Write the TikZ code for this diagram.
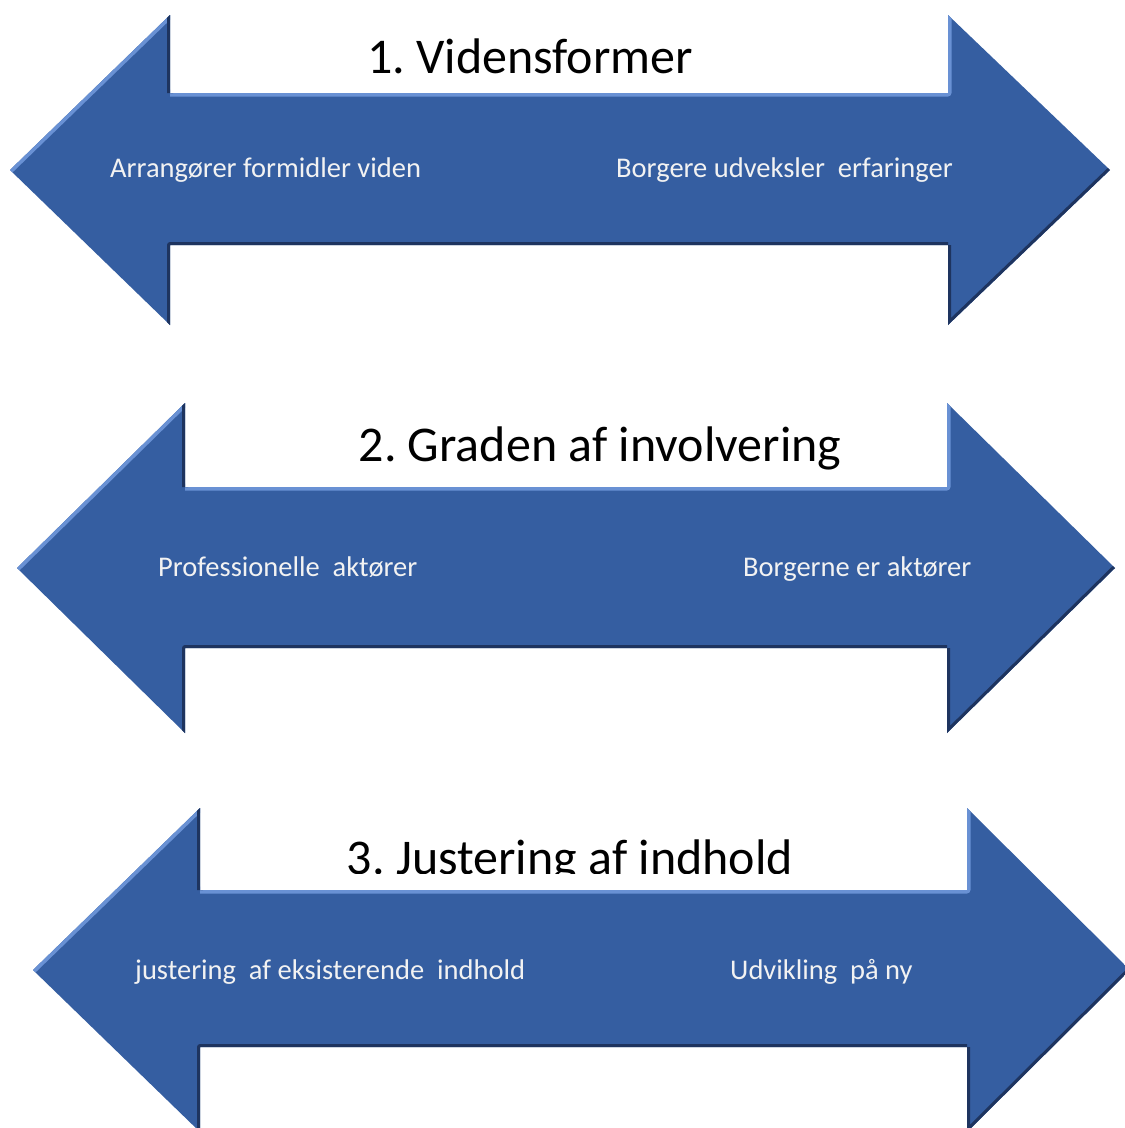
\documentclass[tikz,border=0pt]{standalone}
\usepackage{fontspec}
\setmainfont{Carlito}
\usepackage{tikz}
\frenchspacing

\definecolor{arrowblue}{RGB}{53,94,161}
\definecolor{arrowdark}{RGB}{30,52,95}
\definecolor{arrowlight}{RGB}{105,145,212}
\definecolor{labelwhite}{RGB}{242,242,242}

\begin{document}
\begin{tikzpicture}[x=1pt,y=-1pt,
  title/.style={font=\fontsize{50}{58}\selectfont,text=black,inner sep=0pt,anchor=base},
  pole/.style={font=\fontsize{28.5}{34}\selectfont,text=labelwhite,anchor=base west,inner sep=0pt},
  lightedge/.style={draw=arrowlight,line width=7pt,line join=round},
  darkedge/.style={draw=arrowdark,line width=6pt,line join=round}]
  \useasboundingbox (0,0) rectangle (1125,1128);
  \clip (0,0) rectangle (1125,1128);

  % 1. Vidensformer
  \begin{scope}
    \clip (10,170) -- (170,15) -- (170,93) -- (948,93) -- (948,15) -- (1110,170)
      -- (948,325) -- (948,245) -- (170,245) -- (170,325) -- cycle;
    \fill[arrowblue] (0,0) rectangle (1125,340);
    \draw[lightedge] (10,170) -- (170,15) (170,93) -- (948,93) -- (948,15);
    \draw[darkedge] (170,15) -- (170,93) (170,325) -- (170,245) -- (948,245)
      (1110,170) -- (948,325) -- (948,245);
  \end{scope}
  \node[title] (vidensformer) at (530,73) {1. Vidensformer};
  \node[pole] (arrangoer) at (110,177) {Arrangører formidler viden};
  \node[pole] (borgere) at (616,177) {Borgere udveksler~ erfaringer};

  % 2. Graden af involvering
  \begin{scope}
    \clip (17,568) -- (185,403) -- (185,487) -- (947,487) -- (947,403) -- (1115,568)
      -- (947,733) -- (947,648) -- (185,648) -- (185,733) -- cycle;
    \fill[arrowblue] (0,390) rectangle (1125,740);
    \draw[lightedge] (17,568) -- (185,403) (185,487) -- (947,487) -- (947,403);
    \draw[darkedge] (185,403) -- (185,487) (185,733) -- (185,648) -- (947,648)
      (1115,568) -- (947,733) -- (947,648);
  \end{scope}
  \node[title] (graden) at (600,461) {2. Graden af involvering};
  \node[pole] (professionelle) at (158,576) {Professionelle~ aktører};
  \node[pole] (borgerne) at (743,576) {Borgerne er aktører};

  % 3. Justering af indhold
  \begin{scope}
    \clip (33,970) -- (200,808) -- (200,890) -- (967,890) -- (967,808) -- (1130,970)
      -- (967,1132) -- (967,1047) -- (200,1047) -- (200,1132) -- cycle;
    \fill[arrowblue] (0,795) rectangle (1125,1140);
    \draw[lightedge] (33,970) -- (200,808) (200,890) -- (967,890) -- (967,808);
    \draw[darkedge] (200,808) -- (200,890) (200,1132) -- (200,1047) -- (967,1047)
      (1130,970) -- (967,1132) -- (967,1047);
  \end{scope}
  \begin{scope}
    \clip (300,800) rectangle (850,873);
    \node[title] (justering) at (570,874) {3. Justering af indhold};
  \end{scope}
  \node[pole] (eksisterende) at (135,979) {justering~ af eksisterende~ indhold};
  \node[pole] (udvikling) at (730,979) {Udvikling~ på ny};
\end{tikzpicture}
\end{document}
